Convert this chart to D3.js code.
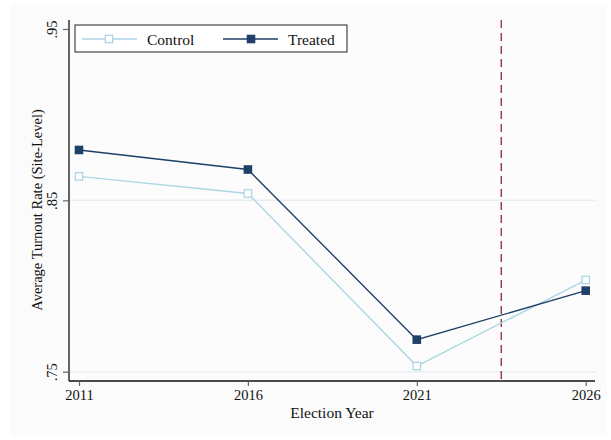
<!DOCTYPE html>
<html>
<head>
<meta charset="utf-8">
<script src="https://cdn.jsdelivr.net/npm/d3@7"></script>
<style>
  body { margin: 0; background: #ffffff; }
  text { font-family: "Liberation Serif", "Times New Roman", serif; fill: #111; }
</style>
</head>
<body>
<script>
var years = [2011, 2016, 2021, 2026];
var control = [0.864, 0.854, 0.7533, 0.8035];
var treated = [0.8794, 0.868, 0.7687, 0.7973];
var yTicks = [0.75, 0.85, 0.95];
var yTickLabels = ['.75', '.85', '.95'];
var gridTicks = [0.75, 0.85];
var cutoff = 2023.5;

var width = 611, height = 440;
var plot = {left: 69, right: 595, top: 20, bottom: 381};

var x = d3.scaleLinear().domain([2011, 2026]).range([79, 585.7]);
var y = d3.scaleLinear().domain([0.75, 0.95]).range([371.7, 29]);

var svg = d3.select('body').append('svg')
  .attr('width', width)
  .attr('height', height);

// background
svg.append('rect').attr('width', width).attr('height', height).attr('fill', '#ffffff');
svg.append('rect').attr('x', 10).attr('y', 4).attr('width', width - 14).attr('height', height - 8).attr('fill', '#fbfbfb');
svg.append('rect').attr('x', plot.left).attr('y', plot.top)
  .attr('width', plot.right - plot.left).attr('height', plot.bottom - plot.top).attr('fill', '#fcfcfc');

// gridlines
svg.selectAll('.grid')
  .data(gridTicks)
  .enter()
  .append('line')
  .attr('x1', plot.left + 1).attr('x2', plot.right)
  .attr('y1', d => y(d)).attr('y2', d => y(d))
  .style('stroke', '#e8eef0')
  .style('stroke-width', 1.5);

// axes
var yAxis = d3.axisLeft(y).tickValues(yTicks).tickFormat((d, i) => yTickLabels[i]).tickSize(6);
var gy = svg.append('g').attr('transform', 'translate(' + plot.left + ',0)').call(yAxis);
gy.select('.domain').attr('d', 'M0,' + plot.top + 'V' + plot.bottom);
gy.selectAll('text')
  .attr('transform', 'rotate(-90)')
  .attr('x', 0)
  .attr('y', -12)
  .attr('dy', 0)
  .attr('text-anchor', 'middle')
  .style('font-size', '14.5px')
  .style('font-family', '"Liberation Serif", serif');

var xAxis = d3.axisBottom(x).tickValues(years).tickFormat(d3.format('d')).tickSize(5).tickPadding(4);
var gx = svg.append('g').attr('transform', 'translate(0,' + plot.bottom + ')').call(xAxis);
gx.select('.domain').attr('d', 'M' + plot.left + ',0H' + plot.right);
gx.selectAll('text')
  .style('font-size', '14.5px')
  .style('font-family', '"Liberation Serif", serif');
svg.selectAll('.domain').style('stroke', '#111').style('stroke-width', 1.3);
svg.selectAll('.tick line').style('stroke', '#666').style('stroke-width', 1.2);

// axis titles
svg.append('text')
  .attr('x', 332).attr('y', 418)
  .attr('text-anchor', 'middle')
  .style('font-size', '15.5px')
  .text('Election Year');

svg.append('text')
  .attr('transform', 'translate(42,210) rotate(-90)')
  .attr('text-anchor', 'middle')
  .style('font-size', '14.5px')
  .text('Average Turnout Rate (Site-Level)');

// cutoff line
svg.append('line')
  .attr('x1', x(cutoff)).attr('x2', x(cutoff))
  .attr('y1', plot.top).attr('y2', plot.bottom)
  .style('stroke', '#8b2b3b')
  .style('stroke-width', 1.3)
  .style('stroke-dasharray', '8,5');

var line = d3.line().x((d, i) => x(years[i])).y(d => y(d));

// control series
svg.append('path').datum(control)
  .attr('d', line)
  .style('fill', 'none')
  .style('stroke', '#add6e4')
  .style('stroke-width', 1.4);
svg.selectAll('.cmark')
  .data(control)
  .enter()
  .append('rect')
  .attr('x', (d, i) => x(years[i]) - 3.7)
  .attr('y', d => y(d) - 3.7)
  .attr('width', 7.4).attr('height', 7.4)
  .style('fill', '#ffffff')
  .style('stroke', '#add6e4')
  .style('stroke-width', 1.3);

// treated series
svg.append('path').datum(treated)
  .attr('d', line)
  .style('fill', 'none')
  .style('stroke', '#1f4169')
  .style('stroke-width', 1.4);
svg.selectAll('.tmark')
  .data(treated)
  .enter()
  .append('rect')
  .attr('x', (d, i) => x(years[i]) - 4.3)
  .attr('y', d => y(d) - 4.3)
  .attr('width', 8.6).attr('height', 8.6)
  .style('fill', '#1f4169');

// legend
var lg = svg.append('g');
lg.append('rect')
  .attr('x', 75).attr('y', 25).attr('width', 272).attr('height', 27)
  .style('fill', '#ffffff')
  .style('stroke', '#222')
  .style('stroke-width', 1);
lg.append('line').attr('x1', 82).attr('x2', 137).attr('y1', 39).attr('y2', 39)
  .style('stroke', '#add6e4').style('stroke-width', 1.4);
lg.append('rect').attr('x', 105.3).attr('y', 35.3).attr('width', 7.4).attr('height', 7.4)
  .style('fill', '#fff').style('stroke', '#add6e4').style('stroke-width', 1.3);
lg.append('text').attr('x', 147).attr('y', 44.5).style('font-size', '15.5px').text('Control');
lg.append('line').attr('x1', 223).attr('x2', 278).attr('y1', 39).attr('y2', 39)
  .style('stroke', '#1f4169').style('stroke-width', 1.4);
lg.append('rect').attr('x', 246.7).attr('y', 34.7).attr('width', 8.6).attr('height', 8.6)
  .style('fill', '#1f4169');
lg.append('text').attr('x', 288).attr('y', 44.5).style('font-size', '15.5px').text('Treated');
</script>
</body>
</html>
